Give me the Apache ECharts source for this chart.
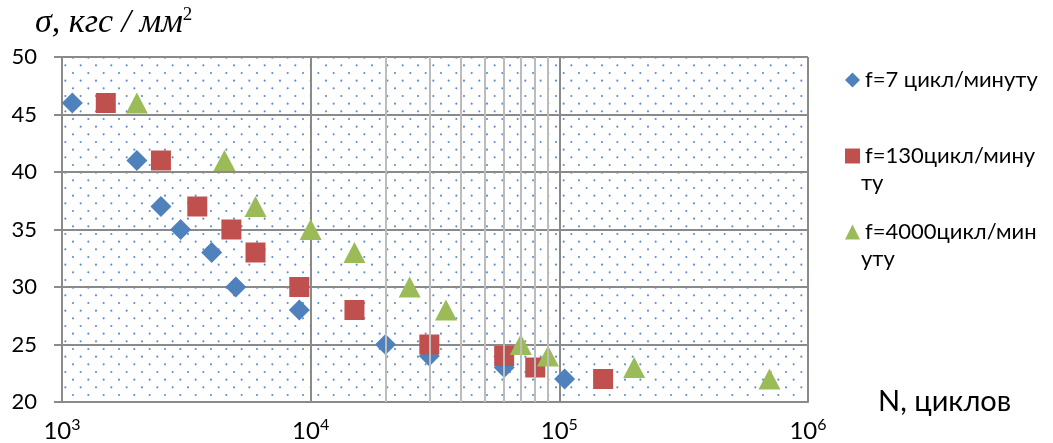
<!DOCTYPE html>
<html>
<head>
<meta charset="utf-8">
<script src="https://cdn.jsdelivr.net/npm/echarts@6/dist/echarts.min.js"></script>
<style>
  html, body { margin: 0; padding: 0; background: #fff; }
  #chart { width: 1053px; height: 443px; }
</style>
</head>
<body>
<div id="chart"></div>
<script>
// Fatigue test results: stress amplitude vs. number of cycles at three loading frequencies
const seriesNames = ['f=7 цикл/минуту', 'f=130цикл/минуту', 'f=4000цикл/минуту'];
// legend text, broken into lines
const legendLines = [
  ['f=7 цикл/минуту'],
  ['f=130цикл/мину', 'ту'],
  ['f=4000цикл/мин', 'уту']
];

const cycles7    = [1100, 2000, 2500, 3000, 4000, 5000, 9000, 20000, 30000, 60000, 105000];
const stress7    = [46, 41, 37, 35, 33, 30, 28, 25, 24, 23, 22];
const cycles130  = [1500, 2500, 3500, 4800, 6000, 9000, 15000, 30000, 60000, 80000, 150000];
const stress130  = [46, 41, 37, 35, 33, 30, 28, 25, 24, 23, 22];
const cycles4000 = [2000, 4500, 6000, 10000, 15000, 25000, 35000, 70000, 90000, 200000, 700000];
const stress4000 = [46, 41, 37, 35, 33, 30, 28, 25, 24, 23, 22];

// intermediate vertical grid lines inside the 10^4..10^5 decade
const minorGridCycles = [20000, 30000, 40000, 50000, 60000, 70000, 80000, 90000];

const yMin = 20, yMax = 50, yStep = 5;
const xMin = 1000, xMax = 1000000;

function pairs(xs, ys) { return xs.map((x, i) => [x, ys[i]]); }

// dotted fill for the plotting area
function dotPattern() {
  const c = document.createElement('canvas');
  c.width = 46; c.height = 46;
  const g = c.getContext('2d');
  g.fillStyle = '#5a8cce';
  for (let j = 0; j < 6; j++) {
    for (let i = 0; i < 3; i++) {
      const x = 4 + i * (46 / 3) + (j % 2) * (23 / 3);
      const y = 4 + j * (23 / 3);
      g.beginPath();
      g.arc(x, y, 1.05, 0, Math.PI * 2);
      g.fill();
    }
  }
  return c;
}

const font = 'Lato, "Liberation Sans", sans-serif';
const serif = '"Liberation Serif", "DejaVu Serif", serif';
const gridColor = '#8a8a8a';

const chart = echarts.init(document.getElementById('chart'), null, { renderer: 'canvas' });

const option = {
  animation: false,
  backgroundColor: '#ffffff',
  grid: {
    left: 62, right: 245, top: 57, bottom: 40,
    show: true,
    backgroundColor: { image: dotPattern(), repeat: 'repeat' },
    borderWidth: 0
  },
  xAxis: {
    type: 'log',
    logBase: 10,
    min: xMin,
    max: xMax,
    name: 'N, циклов',
    nameLocation: 'end',
    nameGap: 70,
    nameTextStyle: { fontFamily: font, fontSize: 29, color: '#000', verticalAlign: 'middle' },
    axisLine: { show: true, lineStyle: { color: gridColor, width: 2 } },
    axisTick: { show: false },
    splitLine: { show: true, lineStyle: { color: gridColor, width: 2 } },
    axisLabel: {
      margin: 15,
      formatter: v => '{b|10}{s|' + Math.round(Math.log10(v)) + '}',
      rich: {
        b: { fontFamily: font, fontSize: 24, color: '#000', lineHeight: 28 },
        s: { fontFamily: font, fontSize: 16, color: '#000', verticalAlign: 'top', lineHeight: 28 }
      }
    }
  },
  yAxis: {
    type: 'value',
    min: yMin,
    max: yMax,
    interval: yStep,
    name: '{t|σ, кгс / мм}{s|2}',
    nameLocation: 'end',
    nameGap: 17,
    nameTextStyle: {
      align: 'left',
      padding: [0, 0, 0, -27],
      rich: {
        t: { fontFamily: serif, fontStyle: 'italic', fontSize: 34, color: '#000' },
        s: { fontFamily: serif, fontSize: 19, color: '#000', verticalAlign: 'top' }
      }
    },
    axisLine: { show: true, lineStyle: { color: gridColor, width: 2 } },
    axisTick: { show: true, inside: false, length: 8, lineStyle: { color: gridColor, width: 2 } },
    splitLine: { show: true, lineStyle: { color: gridColor, width: 2 } },
    axisLabel: { margin: 25, fontFamily: font, fontSize: 22, color: '#000' }
  },
  legend: {
    orient: 'vertical',
    left: 840,
    top: 63,
    itemWidth: 15,
    itemHeight: 15,
    itemGap: 52,
    data: [
      { name: seriesNames[0], icon: 'diamond' },
      { name: seriesNames[1], icon: 'rect' },
      { name: seriesNames[2], icon: 'triangle' }
    ],
    formatter: name => legendLines[seriesNames.indexOf(name)][0],
    textStyle: { fontFamily: font, fontSize: 22, color: '#000', lineHeight: 24 }
  },
  graphic: [
    { type: 'text', left: 861, top: 172, style: { text: legendLines[1][1], font: '22px ' + font, fill: '#000' } },
    { type: 'text', left: 861, top: 248, style: { text: legendLines[2][1], font: '22px ' + font, fill: '#000' } }
  ],
  series: [
    {
      type: 'scatter',
      name: 'minor-grid',
      data: [],
      z: 1,
      silent: true,
      markLine: {
        silent: true,
        symbol: 'none',
        label: { show: false },
        lineStyle: { color: '#bcbcbc', width: 2, type: 'solid' },
        data: minorGridCycles.map(v => ({ xAxis: v }))
      }
    },
    {
      type: 'scatter', name: seriesNames[0], symbol: 'diamond', symbolSize: 21, z: 3,
      itemStyle: { color: '#4f81bd', opacity: 1 },
      data: pairs(cycles7, stress7)
    },
    {
      type: 'scatter', name: seriesNames[1], symbol: 'rect', symbolSize: 20, z: 3,
      itemStyle: { color: '#c0504d', opacity: 1 },
      data: pairs(cycles130, stress130)
    },
    {
      type: 'scatter', name: seriesNames[2], symbol: 'triangle', symbolSize: [22, 21], z: 3,
      itemStyle: { color: '#9bbb59', opacity: 1 },
      data: pairs(cycles4000, stress4000)
    }
  ]
};

chart.setOption(option);
</script>
</body>
</html>
